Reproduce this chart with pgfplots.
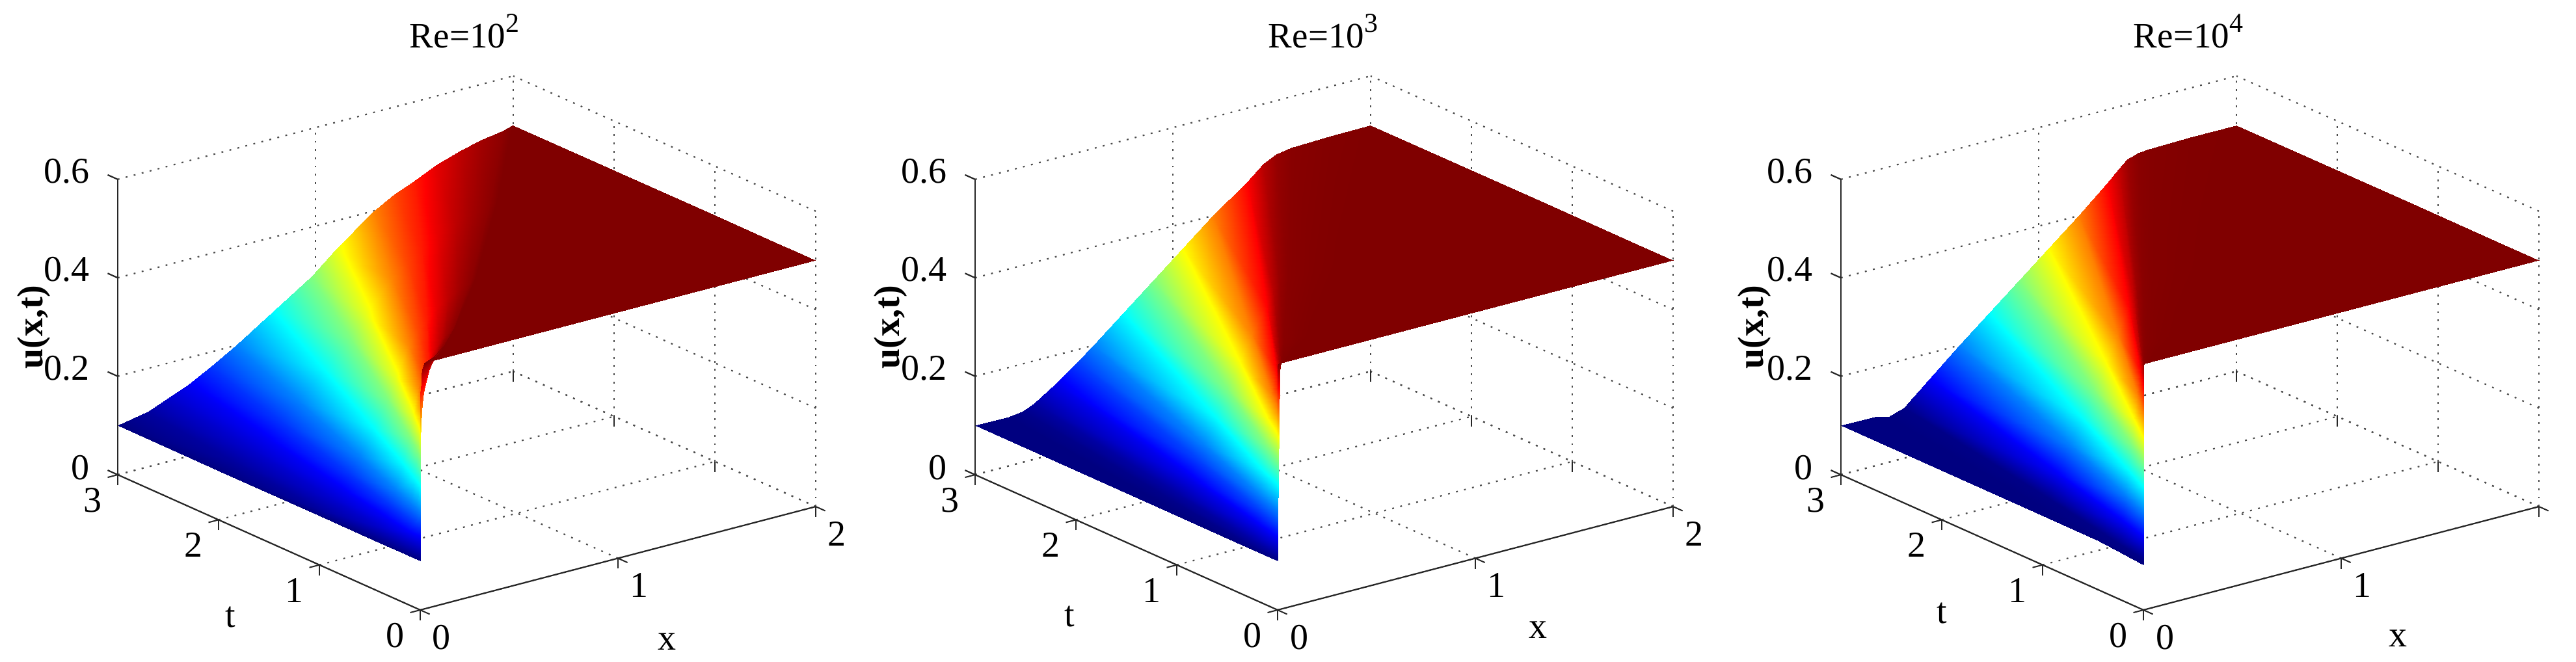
\documentclass[border=0pt]{standalone}
\usepackage{fontspec}
\setmainfont{Liberation Serif}
\usepackage{pgfplots}
\pgfplotsset{compat=1.18}
\newcommand{\supnum}[1]{\raisebox{6pt}{\fontsize{10.5}{10.5}\selectfont #1}}
\newcommand{\lblfont}{\fontsize{14}{14}\selectfont}
\pgfplotsset{
  panel/.style={
    anchor=origin,
    x={(76pt,19.875pt)}, y={(-38.75pt,17.33pt)}, z={(0pt,189.25pt)},
    xmin=0,xmax=2,ymin=0,ymax=3,zmin=0,zmax=0.6,
    xtick={0,1,2}, ytick={0,1,2,3}, ztick={0,0.2,0.4,0.6},
    grid=major,
    major grid style={black!70,line width=0.55pt,dash pattern=on 0.7pt off 2.47pt},
    axis line style={draw=none},
    tick style={black!85,line width=0.5pt},
    every z tick/.append style={draw=none},
    major tick length=4pt,
    tick align=outside,
    tick pos=left,
    /pgf/number format/assume math mode=true,
    tick label style={font=\lblfont},
    xticklabel style={xshift=-1pt,yshift=-0.2pt},
    yticklabel style={xshift=0.7pt,yshift=-0.3pt},
    zticklabel style={xshift=-3.75pt,yshift=0.5pt},
    title style={font=\fontsize{13.75}{13.75}\selectfont},
    every axis title shift=0pt,
    colormap/jet,
    point meta min=0.1, point meta max=0.5,
    clip=false,
  },
  axlines/.style={black!85,line width=0.55pt,forget plot,no markers},
  surfstyle/.style={surf,shader=interp,point meta=z,mesh/ordering=x varies},
}
\newcommand{\axisframe}{%
\addplot3[axlines] coordinates {(0,0,0)(2,0,0)};
\addplot3[axlines] coordinates {(0,0,0)(0,3,0)};
\addplot3[axlines] coordinates {(0,3,0)(0,3,0.6)};
\addplot3[axlines] coordinates {(0,3,0)(0,3.1,0)};
\addplot3[axlines] coordinates {(0,3,0.2)(0,3.1,0.2)};
\addplot3[axlines] coordinates {(0,3,0.4)(0,3.1,0.4)};
\addplot3[axlines] coordinates {(0,3,0.6)(0,3.1,0.6)};
}
\begin{document}
\begin{tikzpicture}
\path[use as bounding box] (0,0) rectangle (990pt,254.25pt);
% ---------- Re=10^2
\begin{axis}[panel, at={(161.5pt,19.75pt)},
  title={Re=10\supnum{2}},
  title style={at={(axis cs:0,0,0)},xshift=17pt,yshift=216pt,anchor=base},
  xlabel={x}, ylabel={t}, zlabel={\bfseries u(x,t)},
  every axis x label/.style={at={(axis cs:0,0,0)},xshift=94.75pt,yshift=-12.25pt,anchor=center,font=\lblfont},
  every axis y label/.style={at={(axis cs:0,0,0)},xshift=-73pt,yshift=-2.75pt,anchor=center,font=\lblfont},
  every axis z label/.style={at={(axis cs:0,0,0)},xshift=-148.5pt,yshift=108.75pt,anchor=center,rotate=90,font=\lblfont},
]
\addplot3[surfstyle,mesh/rows=7,mesh/cols=18] coordinates {
(0,0,.1)(0,0,.112)(0,0,.13)(0,0,.146)(0,0,.17)(0,0,.2)(0,0,.25)(0,0,.3)(0,0,.34)(0,0,.398)(0,0,.4235)(0,0,.44)(.005,0,.46)(.008,0,.476)(.011,0,.487)(.015,0,.495)(.02,0,.5)(2,0,.5)
(0,.05,.1)(0,.05,.112)(0,.05,.13)(0,.05,.146)(.003,.05,.17)(.01,.05,.2)(.018,.05,.25)(.025,.05,.3)(.027,.05,.34)(.032,.05,.398)(.038,.05,.4235)(.045,.05,.44)(.053,.05,.46)(.063,.05,.476)(.073,.05,.487)(.084,.05,.495)(.09,.05,.5)(2,.05,.5)
(0,.15,.1)(0,.15,.112)(0,.15,.13)(.004,.15,.146)(.017,.15,.17)(.03,.15,.2)(.046,.15,.25)(.063,.15,.3)(.069,.15,.34)(.08,.15,.398)(.093,.15,.4235)(.106,.15,.44)(.12,.15,.46)(.139,.15,.476)(.158,.15,.487)(.178,.15,.495)(.187,.15,.5)(2,.15,.5)
(0,.4,.1)(0,.4,.112)(.005,.4,.13)(.03,.4,.146)(.053,.4,.17)(.08,.4,.2)(.115,.4,.25)(.149,.4,.3)(.165,.4,.34)(.193,.4,.398)(.217,.4,.4235)(.242,.4,.44)(.268,.4,.46)(.301,.4,.476)(.333,.4,.487)(.367,.4,.495)(.383,.4,.5)(2,.4,.5)
(0,1,.1)(.005,1,.112)(.055,1,.13)(.1,1,.146)(.147,1,.17)(.2,1,.2)(.273,1,.25)(.346,1,.3)(.386,1,.34)(.452,1,.398)(.499,1,.4235)(.544,1,.44)(.593,1,.46)(.65,1,.476)(.706,1,.487)(.762,1,.495)(.789,1,.5)(2,1,.5)
(0,2,.1)(.073,2,.112)(.154,2,.13)(.2275,2,.146)(.307,2,.17)(.4,2,.2)(.533,2,.25)(.665,2,.3)(.745,2,.34)(.874,2,.398)(.953,2,.4235)(1.027,2,.44)(1.108,2,.46)(1.199,2,.476)(1.284,2,.487)(1.367,2,.495)(1.408,2,.5)(2,2,.5)
(0,3,.1)(.151,3,.112)(.26,3,.13)(.359,3,.146)(.47,3,.17)(.6,3,.2)(.79,3,.25)(.98,3,.3)(1.1,3,.34)(1.289,3,.398)(1.401,3,.4235)(1.5,3,.44)(1.61,3,.46)(1.73,3,.476)(1.84,3,.487)(1.947,3,.495)(1.995,3,.5)(2,3,.5)
};
\axisframe
\end{axis}
% ---------- Re=10^3
\begin{axis}[panel, at={(491pt,19.75pt)},
  title={Re=10\supnum{3}},
  title style={at={(axis cs:0,0,0)},xshift=17.5pt,yshift=216pt,anchor=base},
  xlabel={x}, ylabel={t}, zlabel={\bfseries u(x,t)},
  every axis x label/.style={at={(axis cs:0,0,0)},xshift=100pt,yshift=-7.75pt,anchor=center,font=\lblfont},
  every axis y label/.style={at={(axis cs:0,0,0)},xshift=-80pt,yshift=-2.5pt,anchor=center,font=\lblfont},
  every axis z label/.style={at={(axis cs:0,0,0)},xshift=-148.75pt,yshift=108.75pt,anchor=center,rotate=90,font=\lblfont},
]
\addplot3[surfstyle,mesh/rows=5,mesh/cols=18] coordinates {
(0,0,.1)(0,0,.1)(0,0,.104)(0,0,.1135)(0,0,.142)(0,0,.175)(0,0,.2)(0,0,.25)(0,0,.3)(0,0,.35)(0,0,.4)(0,0,.45)(0,0,.479)(0,0,.4915)(0,0,.4968)(.002,0,.499)(.005,0,.5)(2,0,.5)
(0,.02,.1)(0,.02,.1)(0,.02,.104)(0,.02,.1135)(.0014,.02,.142)(.003,.02,.175)(.01,.02,.2)(.013,.02,.25)(.015,.02,.3)(.017,.02,.35)(.018,.02,.4)(.02,.02,.45)(.021,.02,.479)(.023,.02,.4915)(.026,.02,.4968)(.035,.02,.499)(.045,.02,.5)(2,.02,.5)
(0,.3,.1)(0,.3,.1)(.01,.3,.104)(.0215,.3,.1135)(.037,.3,.142)(.051,.3,.175)(.06,.3,.2)(.075,.3,.25)(.09,.3,.3)(.105,.3,.35)(.12,.3,.4)(.143,.3,.45)(.15,.3,.479)(.163,.3,.4915)(.184,.3,.4968)(.245,.3,.499)(.308,.3,.5)(2,.3,.5)
(0,1.2,.1)(.038,1.2,.1)(.083,1.2,.104)(.111,1.2,.1135)(.16,1.2,.142)(.207,1.2,.175)(.24,1.2,.2)(.3,1.2,.25)(.36,1.2,.3)(.42,1.2,.35)(.48,1.2,.4)(.556,1.2,.45)(.588,1.2,.479)(.621,1.2,.4915)(.666,1.2,.4968)(.79,1.2,.499)(.916,1.2,.5)(2,1.2,.5)
(0,3,.1)(.17,3,.1)(.245,3,.104)(.3,3,.1135)(.409,3,.142)(.52,3,.175)(.6,3,.2)(.75,3,.25)(.9,3,.3)(1.05,3,.35)(1.2,3,.4)(1.376,3,.45)(1.458,3,.479)(1.524,3,.4915)(1.6,3,.4968)(1.8,3,.499)(1.995,3,.5)(2,3,.5)
};
\axisframe
\end{axis}
% ---------- Re=10^4
\begin{axis}[panel, at={(823.75pt,19.75pt)},
  xticklabels={0,1,{}},
  title={Re=10\supnum{4}},
  title style={at={(axis cs:0,0,0)},xshift=17.25pt,yshift=216pt,anchor=base},
  xlabel={x}, ylabel={t}, zlabel={\bfseries u(x,t)},
  every axis x label/.style={at={(axis cs:0,0,0)},xshift=97.75pt,yshift=-11pt,anchor=center,font=\lblfont},
  every axis y label/.style={at={(axis cs:0,0,0)},xshift=-77.5pt,yshift=-1.25pt,anchor=center,font=\lblfont},
  every axis z label/.style={at={(axis cs:0,0,0)},xshift=-149.5pt,yshift=108.75pt,anchor=center,rotate=90,font=\lblfont},
]
\addplot3[surfstyle,mesh/rows=5,mesh/cols=18] coordinates {
(0,0,.1)(0,0,.1)(0,0,.092)(0,0,.103)(0,0,.146)(0,0,.2)(0,0,.25)(0,0,.3)(0,0,.35)(0,0,.4)(0,0,.45)(0,0,.4735)(0,0,.4886)(0,0,.4962)(0,0,.498)(.002,0,.4995)(.005,0,.5)(2,0,.5)
(0,.02,.1)(0,.02,.1)(0,.02,.092)(.003,.02,.103)(.0034,.02,.146)(.004,.02,.2)(.005,.02,.25)(.006,.02,.3)(.007,.02,.35)(.008,.02,.4)(.009,.02,.45)(.0095,.02,.4735)(.0103,.02,.4886)(.011,.02,.4962)(.0154,.02,.498)(.03,.02,.4995)(.04,.02,.5)(2,.02,.5)
(0,.3,.1)(0,.3,.1)(.016,.3,.092)(.034,.3,.103)(.046,.3,.146)(.06,.3,.2)(.075,.3,.25)(.09,.3,.3)(.105,.3,.35)(.12,.3,.4)(.1334,.3,.45)(.137,.3,.4735)(.141,.3,.4886)(.153,.3,.4962)(.17,.3,.498)(.239,.3,.4995)(.308,.3,.5)(2,.3,.5)
(0,1.2,.1)(.038,1.2,.1)(.088,1.2,.092)(.131,1.2,.103)(.179,1.2,.146)(.24,1.2,.2)(.3,1.2,.25)(.36,1.2,.3)(.42,1.2,.35)(.48,1.2,.4)(.537,1.2,.45)(.558,1.2,.4735)(.575,1.2,.4886)(.604,1.2,.4962)(.639,1.2,.498)(.777,1.2,.4995)(.916,1.2,.5)(2,1.2,.5)
(0,3,.1)(.17,3,.1)(.24,3,.092)(.32,3,.103)(.444,3,.146)(.6,3,.2)(.75,3,.25)(.9,3,.3)(1.05,3,.35)(1.2,3,.4)(1.345,3,.45)(1.404,3,.4735)(1.448,3,.4886)(1.502,3,.4962)(1.56,3,.498)(1.78,3,.4995)(1.995,3,.5)(2,3,.5)
};
\axisframe
\end{axis}
\end{tikzpicture}
\end{document}
